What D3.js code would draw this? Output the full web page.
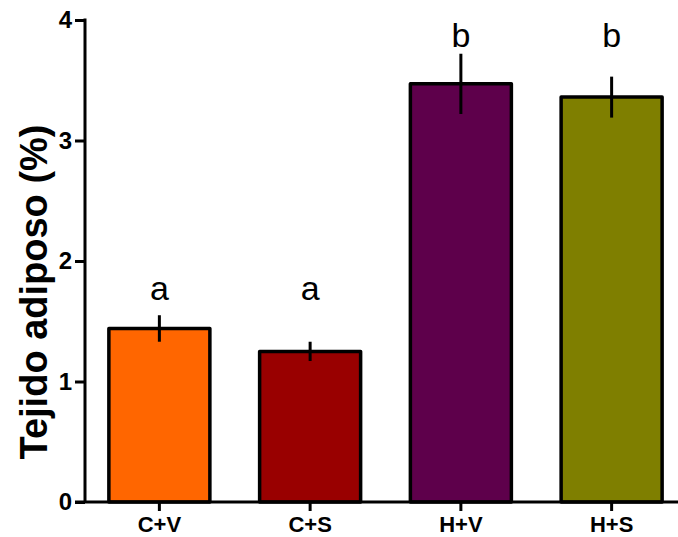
<!DOCTYPE html>
<html lang="en">

<head>
    <meta charset="UTF-8">
    <title>Tejido adiposo</title>
    <style>
        body { margin: 0; background: #fff; overflow: hidden; }
        svg { display: block; }
        text { font-family: "Liberation Sans", Arial, sans-serif; }
    </style>
</head>

<body>
    <script src='https://d3js.org/d3.v7.min.js'></script>
    <script>
        const groups = ["C+V", "C+S", "H+V", "H+S"];
        const means = [1.44, 1.25, 3.47, 3.36];
        const sems = [0.11, 0.08, 0.25, 0.17];
        const letters = ["a", "a", "b", "b"];
        const letterLevels = [1.68, 1.68, 3.78, 3.78];
        const colors = ["#ff6600", "#990000", "#5e004b", "#7f7f00"];
        const yTicks = [0, 1, 2, 3, 4];

        const width = 678;
        const height = 537;

        var x = d3.scaleBand()
            .domain(groups)
            .range([84, 687])
            .paddingInner(0.33)
            .paddingOuter(0.165);
        var y = d3.scaleLinear()
            .domain([0, 4])
            .range([502, 20]);

        var svg = d3.select("body")
            .append("svg")
            .attr("width", width)
            .attr("height", height);

        var data = groups.map(function(g, i) {
            return { g: g, m: means[i], s: sems[i], l: letters[i], ly: letterLevels[i], c: colors[i] };
        });

        // bars
        svg.selectAll("rect.bar")
            .data(data)
            .enter()
            .append("rect")
            .attr("class", "bar")
            .attr("x", function(d) { return x(d.g); })
            .attr("y", function(d) { return y(d.m); })
            .attr("width", x.bandwidth())
            .attr("height", function(d) { return y(0) - y(d.m); })
            .attr("fill", function(d) { return d.c; })
            .attr("stroke", "#000")
            .attr("stroke-width", 3.5)
            .attr("stroke-linejoin", "round");

        // error bars
        svg.selectAll("line.err")
            .data(data)
            .enter()
            .append("line")
            .attr("class", "err")
            .attr("x1", function(d) { return x(d.g) + x.bandwidth() / 2; })
            .attr("x2", function(d) { return x(d.g) + x.bandwidth() / 2; })
            .attr("y1", function(d) { return y(d.m - d.s); })
            .attr("y2", function(d) { return y(d.m + d.s); })
            .attr("stroke", "#000")
            .attr("stroke-width", 3);

        // significance letters
        svg.selectAll("text.letter")
            .data(data)
            .enter()
            .append("text")
            .attr("class", "letter")
            .attr("x", function(d) { return x(d.g) + x.bandwidth() / 2; })
            .attr("y", function(d) { return y(d.ly); })
            .attr("text-anchor", "middle")
            .style("font-size", "34px")
            .text(function(d) { return d.l; });

        // y axis
        var yAxis = svg.append("g")
            .attr("transform", "translate(85,0)")
            .call(d3.axisLeft(y).tickValues(yTicks).tickSize(10).tickPadding(3).tickFormat(d3.format("d")));
        yAxis.select(".domain").attr("d", "M0," + (y(4) - 1.5) + "V" + y(0)).attr("stroke-width", 3);
        yAxis.selectAll(".tick line").attr("stroke-width", 3);
        yAxis.selectAll(".tick text")
            .style("font-size", "24px")
            .style("font-weight", "bold")
            .attr("fill", "#000");

        // x axis
        var xAxis = svg.append("g")
            .attr("transform", "translate(0,502)")
            .call(d3.axisBottom(x).tickSize(9).tickPadding(5));
        xAxis.select(".domain").attr("d", "M75,0H678").attr("stroke-width", 3);
        xAxis.selectAll(".tick line").attr("stroke-width", 3);
        xAxis.selectAll(".tick text")
            .style("font-size", "22px")
            .style("font-weight", "bold")
            .attr("fill", "#000");

        // y label
        svg.append("text")
            .attr("transform", "translate(47,292) rotate(-90)")
            .attr("text-anchor", "middle")
            .style("font-size", "38px")
            .style("font-weight", "bold")
            .text("Tejido adiposo (%)");
    </script>
</body>

</html>
